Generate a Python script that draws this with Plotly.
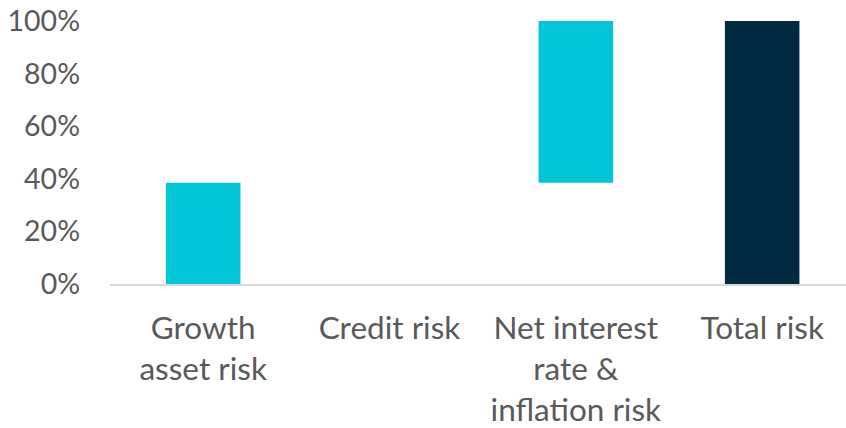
import numpy as np
import plotly.graph_objects as go

# Risk decomposition (share of total risk)
categories = ["Growth<br>asset risk", "Credit risk", "Net interest<br>rate &<br>inflation risk", "Total risk"]
contributions = [0.385, 0.0, 0.615]
total = 1.0

steps = np.array(contributions)
bases = np.concatenate([[0.0], np.cumsum(steps)[:-1]])

values = list(steps) + [total]
base_vals = list(bases) + [0.0]
colors = ["#00C6D7"] * len(contributions) + ["#002A42"]

fig = go.Figure(
    go.Bar(
        x=categories,
        y=values,
        base=base_vals,
        marker=dict(color=colors, line=dict(width=0)),
        width=0.4,
        hoverinfo="skip",
    )
)

font_family = "Lato, 'Open Sans', sans-serif"
fig.update_layout(
    width=846,
    height=428,
    margin=dict(l=110, r=0, t=21, b=142),
    paper_bgcolor="white",
    plot_bgcolor="white",
    showlegend=False,
    font=dict(family=font_family, size=28, color="#595959"),
)
fig.update_xaxes(
    range=[-0.5, 3.45],
    showline=True,
    linecolor="#D9D9D9",
    linewidth=2,
    showgrid=False,
    ticks="",
    tickfont=dict(size=31.5, color="#595959"),
    ticklabelstandoff=15,
)
fig.update_yaxes(
    range=[0, 1],
    tickvals=[0, 0.2, 0.4, 0.6, 0.8, 1.0],
    tickformat=".0%",
    showgrid=False,
    zeroline=False,
    showline=False,
    ticks="",
    ticklabelstandoff=29,
    tickfont=dict(size=28.5, color="#595959"),
)

fig.write_html("out.html")
